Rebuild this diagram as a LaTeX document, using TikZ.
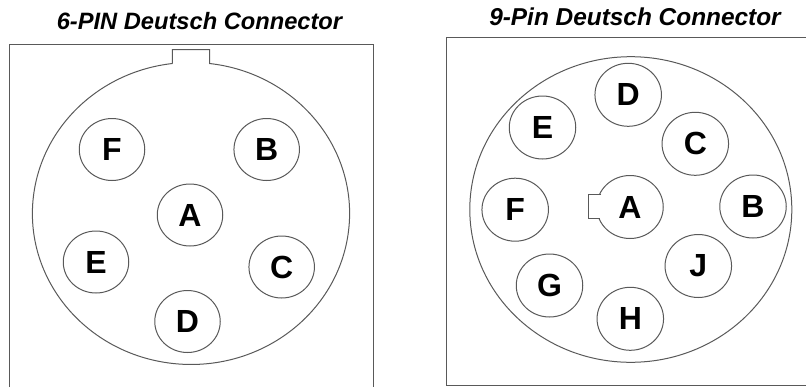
\documentclass[tikz,border=0pt]{standalone}
\usepackage{fontspec}
\setmainfont{Liberation Sans}
\usetikzlibrary{shapes.geometric}
\def\u{0.75pt}
\tikzset{
  x=0.75pt,y=0.75pt,
  linestyle/.style={draw=black!65,line width=0.75pt},
  pinA/.style={ellipse,linestyle,fill=white,inner sep=0pt,minimum width=65.5*\u,minimum height=62*\u,font=\fontsize{24}{24}\selectfont\bfseries},
  pinB/.style={pinA,minimum width=66.5*\u,minimum height=63*\u},
  title/.style={text=black,inner sep=0pt}
}
\begin{document}
\begin{tikzpicture}
\useasboundingbox (0,0) rectangle (806,387);
% titles
\node[title,font=\fontsize{17.75}{20}\selectfont\bfseries\itshape] (t6) at (199.5,365.5) {6-PIN Deutsch Connector};
\node[title,font=\fontsize{18.3}{20}\selectfont\bfseries\itshape] (t9) at (635,370) {9-Pin Deutsch Connector};
% boxes
\draw[linestyle] (9,0) -- (9,343) -- (373.5,343) -- (373.5,0);
\draw[linestyle] (806,349.7) -- (446.3,349.7) -- (446.3,1.3) -- (806,1.3);
% 6-pin body
\draw[linestyle] (172.3,323.5) -- (172.3,337.5) -- (209.5,337.5) -- (209.5,323.5)
  arc[start angle=83.3,end angle=-263.2,x radius=158.6*\u,y radius=151*\u];
\node[pinA] (a6) at (190,172) {A};
\node[pinA] (b6) at (266.7,237.5) {B};
\node[pinA] (c6) at (281.7,120) {C};
\node[pinA] (d6) at (187.5,65.5) {D};
\node[pinA] (e6) at (96,125) {E};
\node[pinA] (f6) at (112,237.5) {F};
% 9-pin body
\draw[linestyle] (630.8,177.5) ellipse[x radius=161*\u,y radius=152.8*\u];
\node[pinB] (a9) at (630,180) {A};
\node[pinB] (b9) at (753,180.5) {B};
\node[pinB] (c9) at (695.3,243.2) {C};
\node[pinB] (d9) at (628.2,292.2) {D};
\node[pinB] (e9) at (542.5,259.5) {E};
\node[pinB] (f9) at (515.2,177.3) {F};
\node[pinB] (g9) at (549.5,101.5) {G};
\node[pinB] (h9) at (630.3,68.2) {H};
\node[pinB] (j9) at (698.3,121) {J};
% key on pin A
\fill[white] (588.8,169.1) rectangle (600.5,192.3);
\draw[linestyle] (601,192.7) -- (588.3,192.7) -- (588.3,168.7) -- (600,168.7);
\end{tikzpicture}
\end{document}
